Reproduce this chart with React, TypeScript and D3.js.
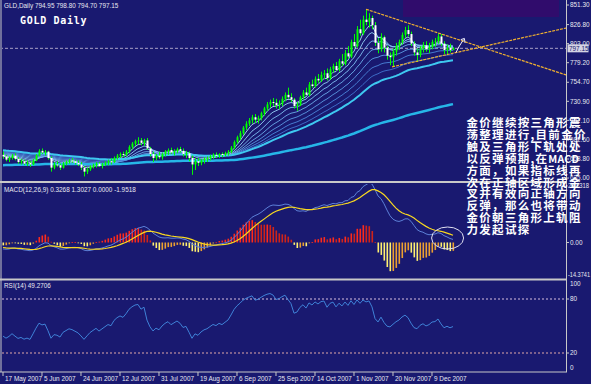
import React from "react";
import * as d3 from "d3";

// ---------- data ----------
const firstOpen = 664;
const closes = [
  662, 658, 660, 663, 659, 655, 656, 653, 654, 652,
  657, 663, 669, 667, 668, 660, 648, 652, 651, 648,
  653, 655, 657, 656, 654, 652, 648, 643, 646, 649,
  651, 653, 650, 652, 654, 656, 655, 660, 663, 665,
  664, 668, 674, 678, 681, 682, 679, 682, 672, 665,
  660, 663, 661, 665, 668, 670, 667, 669, 671, 669,
  665, 666, 660, 652, 656, 654, 657, 659, 660, 662,
  664, 663, 665, 664, 666, 668, 673, 680, 686, 691,
  698, 703, 707, 711, 708, 710, 716, 722, 727, 730,
  729, 726, 728, 734, 739, 736, 733, 725, 727, 736,
  742, 739, 752, 750, 759, 757, 764, 766, 760, 771,
  775, 770, 781, 778, 791, 787, 805, 800, 821, 816,
  833, 830, 835, 826, 804, 796, 811, 798, 788, 786,
  793, 800, 805, 814, 820, 815, 803, 792, 789, 797,
  801, 796, 799, 805, 806, 812, 803, 795, 798, 794.95,
  797.15,
];
const highs = [
  668, 664, 662, 665, 666, 661, 659, 658, 657, 656,
  659, 665, 671, 672, 670, 669, 662, 655, 656, 653,
  655, 657, 659, 660, 658, 657, 655, 650, 648, 651,
  653, 655, 655, 654, 656, 658, 660, 662, 665, 667,
  668, 670, 676, 680, 683, 686, 685, 684, 685, 674,
  668, 665, 668, 667, 670, 672, 673, 671, 673, 674,
  672, 669, 668, 663, 660, 660, 659, 661, 662, 664,
  666, 667, 666, 667, 668, 670, 675, 682, 688, 694,
  700, 706, 710, 714, 715, 713, 718, 724, 730, 733,
  735, 734, 732, 737, 742, 748, 741, 735, 730, 738,
  745, 748, 755, 758, 762, 765, 768, 770, 772, 774,
  778, 780, 784, 790, 795, 800, 808, 815, 825, 833,
  838, 846, 841, 838, 830, 810, 816, 813, 800, 792,
  797, 804, 808, 817, 824, 826, 818, 806, 797, 800,
  805, 806, 804, 808, 810, 816, 815, 806, 802, 803,
  798.8,
];
const lows = [
  659, 656, 655, 658, 657, 653, 652, 651, 650, 649,
  651, 656, 662, 665, 663, 658, 643, 646, 649, 645,
  647, 651, 653, 654, 652, 650, 645, 637, 640, 644,
  647, 648, 649, 647, 650, 651, 652, 654, 658, 660,
  661, 662, 666, 671, 675, 677, 676, 675, 670, 662,
  655, 657, 659, 658, 662, 664, 665, 663, 666, 667,
  662, 660, 656, 639, 645, 650, 651, 653, 655, 657,
  659, 660, 660, 661, 662, 663, 666, 671, 678, 683,
  689, 695, 700, 703, 704, 703, 707, 713, 719, 723,
  725, 722, 721, 725, 731, 734, 730, 722, 719, 725,
  733, 738, 737, 748, 748, 754, 755, 759, 757, 758,
  767, 769, 768, 775, 776, 784, 785, 798, 798, 813,
  814, 826, 823, 821, 800, 791, 793, 792, 783, 776,
  774, 788, 795, 802, 810, 812, 800, 788, 780, 786,
  792, 793, 791, 796, 799, 803, 800, 790, 789, 792,
  794.7,
];

const headerText = "GLD,Daily 794.95 798.80 794.70 797.15";
const titleText = "GOLD Daily";
const dateLabels = [
  "17 May 2007", "5 Jun 2007", "24 Jun 2007", "12 Jul 2007", "31 Jul 2007", "19 Aug 2007",
  "6 Sep 2007", "25 Sep 2007", "14 Oct 2007", "1 Nov 2007", "20 Nov 2007", "9 Dec 2007",
];
const dateTickBars = [0, 13, 26, 39, 52, 65, 78, 91, 104, 117, 130, 143];
const priceTicks = [851.3, 826.8, 803.0, 779.2, 754.7, 730.9, 707.1, 682.6, 658.8, 635.0];
const currentPrice = 797.15;

const maPeriods = [5, 9, 14, 20, 27, 35, 44, 55, 170];
const maSeeds = [663, 664, 665, 666, 667, 668, 669, 670, 651];
const maColors = ["#b8ecff", "#9cdcff", "#84c8f8", "#70b4f0", "#5ea0e8", "#4e8ce0", "#4278d4", "#3ec8f0", "#26b6e8"];
const maWidths = [1, 1, 1, 1, 1, 1, 1, 2, 2.5];

const upperTrend: [number, number][] = [[121, 846], [187.7, 763.8]];
const lowerTrend: [number, number][] = [[129.7, 774], [187.7, 822.5]];

const macdSeeds = [662, 665, -2]; // ema12, ema26, signal before the first bar
const macdRange = [-14.3741, 24.2318];
const macdLabel = "MACD(12,26,9) 0.3268 1.3027 0.0000 -1.9518";
const rsiSeeds = [2.0, 3.0]; // avg gain, avg loss
const rsiLevels = [80, 20];
const rsiLabel = "RSI(14) 49.2706";

const noteLines = [
  "金价继续按三角形震",
  "荡整理进行,目前金价",
  "触及三角形下轨处处",
  "以反弹预期,在MACD",
  "方面，如果指标线再",
  "次在正轴区域形成金",
  "叉并有效向正轴方向",
  "反弹，那么也将带动",
  "金价朝三角形上轨阻",
  "力发起试探",
];

// ---------- helpers ----------
function ema(values: number[], period: number, seed: number) {
  const a = 2 / (period + 1);
  let e = seed;
  return values.map((v) => (e = e + a * (v - e)));
}

const BG = "#191970";
const AX = "#c8c8c8";
const TXT = "#e8e8f0";
const small = { fontFamily: "Liberation Sans, Arial, sans-serif", fontSize: 6.4, fill: TXT } as const;

function NoteLine({ t, y }: { t: string; y: number }) {
  const parts = t.split(/([A-Za-z]+)/).filter((p) => p.length > 0);
  return (
    <text x={466.5} y={y}>
      {parts.map((p, k) =>
        /^[A-Za-z]+$/.test(p) ? (
          <tspan key={k} letterSpacing={0.2} fontSize={10.5}>{p}</tspan>
        ) : (
          <tspan key={k}>{p}</tspan>
        )
      )}
    </text>
  );
}

export default function App() {
  const opens = closes.map((c, i) => (i === 0 ? firstOpen : closes[i - 1]));

  const axisX = 566;
  const x = d3.scaleLinear().domain([0, 187.67]).range([3, axisX]);
  const yP = d3.scaleLinear().domain([635, 851.3]).range([178.04, 5]);
  const yM = d3.scaleLinear().domain(macdRange).range([276, 186]);
  const yR = d3.scaleLinear().domain([0, 100]).range([371, 281]);

  const mas = maPeriods.map((p, k) => ema(closes, p, maSeeds[k]));
  const e12 = ema(closes, 12, macdSeeds[0]);
  const e26 = ema(closes, 26, macdSeeds[1]);
  const macd = e12.map((v, i) => v - e26[i]);
  const sig = ema(macd, 9, macdSeeds[2]);
  const hist = macd.map((m, i) => 2 * (m - sig[i]));

  let ag = rsiSeeds[0];
  let al = rsiSeeds[1];
  const rsi = closes.map((c, i) => {
    const prev = i === 0 ? firstOpen : closes[i - 1];
    const ch = c - prev;
    ag = (ag * 13 + Math.max(ch, 0)) / 14;
    al = (al * 13 + Math.max(-ch, 0)) / 14;
    return al === 0 ? 100 : 100 - 100 / (1 + ag / al);
  });

  const lineP = d3.line<number>().x((_, i) => x(i)).y((d) => yP(d));
  const lineM = d3.line<number>().x((_, i) => x(i)).y((d) => yM(d));
  const lineR = d3.line<number>().x((_, i) => x(i)).y((d) => yR(d));
  const trend = d3.line<[number, number]>().x((d) => x(d[0])).y((d) => yP(d[1]));

  const histColor = (h: number, prev: number) =>
    h >= 0 ? (h >= prev ? "#ff2a1a" : "#d02418") : h <= prev ? "#fff070" : "#eca030";

  const cpY = yP(currentPrice);

  return (
    <svg width={591} height={384} style={{ position: "fixed", left: 0, top: 0, display: "block" }}>
      <rect x={0} y={0} width={591} height={384} fill={BG} />
      <defs>
        <clipPath id="mainClip"><rect x={2} y={0} width={axisX - 2} height={181} /></clipPath>
        <clipPath id="macdClip"><rect x={2} y={184} width={axisX - 2} height={95} /></clipPath>
        <clipPath id="rsiClip"><rect x={2} y={281} width={axisX - 2} height={91} /></clipPath>
      </defs>

      {/* purple box top right */}
      <rect x={403} y={0} width={156} height={17} fill="#300c6c" />

      {/* main panel */}
      <g clipPath="url(#mainClip)">
        <line x1={0} x2={axisX} y1={cpY} y2={cpY} stroke="#a8a0c4" strokeWidth={1} strokeDasharray="3,2" />
        {mas.map((m, k) => (
          <path key={k} d={lineP(m) || ""} fill="none" stroke={maColors[k]} strokeWidth={maWidths[k]} opacity={k < 7 ? 0.85 : 1} />
        ))}
        {closes.map((c, i) => {
          const o = opens[i];
          const bull = c >= o;
          const top = yP(Math.max(o, c));
          const bot = yP(Math.min(o, c));
          return (
            <g key={i}>
              <line x1={x(i) + 0.5} x2={x(i) + 0.5} y1={yP(highs[i])} y2={yP(lows[i])} stroke="#00ff00" strokeWidth={1} />
              <rect x={x(i) - 0.5} y={top} width={2} height={Math.max(1, bot - top)} fill={bull ? "#00ff00" : "#ffffff"} />
            </g>
          );
        })}
        <path d={trend(upperTrend) || ""} fill="none" stroke="#f0b030" strokeWidth={1.2} strokeDasharray="3,1" />
        <path d={trend(lowerTrend) || ""} fill="none" stroke="#f0b030" strokeWidth={1.2} strokeDasharray="3,1" />
        {/* small arrow object */}
        <path d={`M${x(151)},${yP(792)} Q${x(152)},${yP(800)} ${x(153.5)},${yP(808)}`} fill="none" stroke="#f0f0ff" strokeWidth={1} />
        <path d={`M${x(152.6)},${yP(808)} L${x(153.8)},${yP(809.5)} L${x(154)},${yP(804)}`} fill="none" stroke="#f0f0ff" strokeWidth={1} />
      </g>
      <text x={4} y={8} {...small}>{headerText}</text>
      <text x={20} y={24} fill="#ffffff" fontFamily="DejaVu Sans Mono, monospace" fontWeight="bold" fontSize={10} letterSpacing={0.7}>{titleText}</text>

      {/* MACD panel */}
      <g clipPath="url(#macdClip)">
        {hist.map((h, i) => {
          const y0 = yM(0);
          const y1 = yM(h);
          return (
            <rect key={i} x={x(i) - 0.5} y={Math.min(y0, y1)} width={1.6} height={Math.max(0.8, Math.abs(y1 - y0))}
              fill={histColor(h, i === 0 ? h : hist[i - 1])} />
          );
        })}
        <path d={lineM(macd) || ""} fill="none" stroke="#5c80d8" strokeWidth={1} />
        <path d={lineM(sig) || ""} fill="none" stroke="#f8d820" strokeWidth={1.2} />
        <ellipse cx={x(148.2)} cy={238} rx={16} ry={11} fill="none" stroke="#e0e0f0" strokeWidth={1} />
      </g>
      <text x={4} y={192} {...small}>{macdLabel}</text>

      {/* RSI panel */}
      <g clipPath="url(#rsiClip)">
        {rsiLevels.map((lv) => (
          <line key={lv} x1={2} x2={axisX} y1={yR(lv)} y2={yR(lv)} stroke={lv === 80 ? "#d8c0e0" : "#e0a8a8"} strokeWidth={1} strokeDasharray="2,2" />
        ))}
        <path d={lineR(rsi) || ""} fill="none" stroke="#3f82d8" strokeWidth={1} />
      </g>
      <text x={4} y={288} {...small}>{rsiLabel}</text>

      {/* frame & separators */}
      <line x1={1} x2={1} y1={0} y2={372} stroke={AX} strokeWidth={1} />
      <line x1={axisX + 0.5} x2={axisX + 0.5} y1={0} y2={372} stroke={AX} strokeWidth={1} />
      <rect x={0} y={181} width={axisX + 1} height={2} fill={AX} />
      <rect x={0} y={278.5} width={axisX + 1} height={2} fill={AX} />
      <line x1={0} x2={axisX + 1} y1={372} y2={372} stroke={AX} strokeWidth={1} />

      {/* price axis */}
      {priceTicks.map((p) => (
        <g key={p}>
          <line x1={axisX} x2={axisX + 3} y1={yP(p)} y2={yP(p)} stroke={AX} />
          <text x={570} y={yP(p) + 2.2} {...small}>{p.toFixed(2)}</text>
        </g>
      ))}
      <rect x={567.5} y={cpY - 4} width={21} height={8} fill="#d4d4e4" />
      <text x={569} y={cpY + 2.3} {...small} fill={BG}>{currentPrice.toFixed(2)}</text>

      {/* MACD axis */}
      <text x={568} y={188} {...small} textLength={21} lengthAdjust="spacingAndGlyphs">{macdRange[1].toFixed(4)}</text>
      <line x1={axisX} x2={axisX + 3} y1={yM(0)} y2={yM(0)} stroke={AX} />
      <text x={570} y={yM(0) + 2.2} {...small}>0.00</text>
      <text x={568} y={277} {...small} textLength={22} lengthAdjust="spacingAndGlyphs">{macdRange[0].toFixed(4)}</text>

      {/* RSI axis */}
      <text x={570} y={yR(100) + 5} {...small}>100</text>
      {rsiLevels.map((lv) => (
        <g key={lv}>
          <line x1={axisX} x2={axisX + 3} y1={yR(lv)} y2={yR(lv)} stroke={AX} />
          <text x={570} y={yR(lv) + 2.2} {...small}>{lv}</text>
        </g>
      ))}
      <text x={570} y={yR(0) - 1} {...small}>0</text>

      {/* time axis */}
      {dateTickBars.map((b, k) => (
        <g key={b}>
          <line x1={x(b)} x2={x(b)} y1={372} y2={376} stroke={AX} />
          <text x={x(b) + 2} y={381} {...small}>{dateLabels[k]}</text>
        </g>
      ))}

      {/* commentary */}
      <g fontFamily="Noto Sans CJK SC, sans-serif" fontWeight="bold" fontSize={11.5} letterSpacing={1.3} fill="#ffffff">
        {noteLines.map((t, k) => (
          <NoteLine key={k} t={t} y={127 + k * 11.9} />
        ))}
      </g>
    </svg>
  );
}
